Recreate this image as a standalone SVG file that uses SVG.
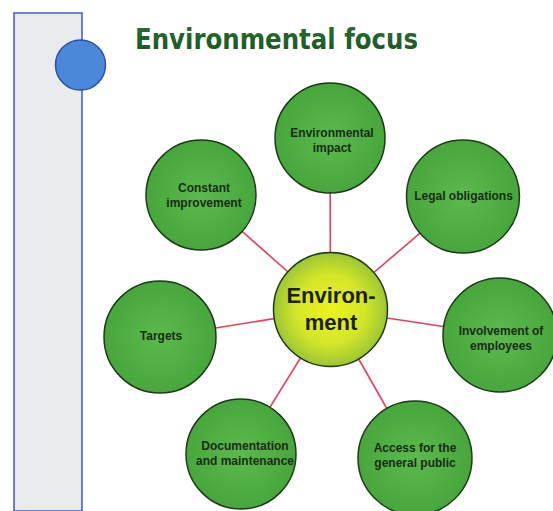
<svg xmlns="http://www.w3.org/2000/svg" width="553" height="511" viewBox="0 0 553 511">
<style>
.node circle{fill:url(#g);stroke:#1d3a18;stroke-width:1.5}
.node text{font-family:"Liberation Sans",Arial,sans-serif;font-weight:bold;font-size:12px;fill:#1c2a1a;text-anchor:middle}
#connectors line{stroke:#e4405a;stroke-width:1.6}
</style>
<defs>
<radialGradient id="g" cx="0.5" cy="0.5" r="0.5">
<stop offset="0" stop-color="#5cba4c"/>
<stop offset="1" stop-color="#47a73c"/>
</radialGradient>
<radialGradient id="cg" cx="0.5" cy="0.5" r="0.5">
<stop offset="0" stop-color="#eef21c"/>
<stop offset="0.6" stop-color="#d4e628"/>
<stop offset="1" stop-color="#9cc634"/>
</radialGradient>
<linearGradient id="tg" x1="0" y1="0" x2="0" y2="1">
<stop offset="0" stop-color="#2a7030"/>
<stop offset="1" stop-color="#1b5220"/>
</linearGradient>
</defs>
<rect width="553" height="511" fill="#ffffff"/>
<g id="sidebar">
<rect x="14" y="13" width="68" height="498" fill="#e9ebed" stroke="#3a5ac0" stroke-width="1.5"/>
<circle cx="80.5" cy="65" r="25" fill="#4a88da" stroke="#2a50a8" stroke-width="1.5"/>
</g>
<text x="135" y="49" font-family="'DejaVu Sans',Verdana,sans-serif" font-weight="bold" font-size="28" fill="url(#tg)" textLength="283" lengthAdjust="spacingAndGlyphs">Environmental focus</text>
<g id="connectors">
<line x1="330.5" y1="309.5" x2="330" y2="138"/>
<line x1="330.5" y1="309.5" x2="463" y2="196.5"/>
<line x1="330.5" y1="309.5" x2="500" y2="335"/>
<line x1="330.5" y1="309.5" x2="415" y2="458"/>
<line x1="330.5" y1="309.5" x2="241" y2="454"/>
<line x1="330.5" y1="309.5" x2="160" y2="337"/>
<line x1="330.5" y1="309.5" x2="201" y2="195"/>
</g>
<g id="n-impact" class="node"><circle cx="330" cy="138" r="55"/><text x="332" y="137">Environmental</text><text x="332" y="152">impact</text></g>
<g id="n-legal" class="node"><circle cx="463" cy="196.5" r="56.5"/><text x="463.5" y="200">Legal obligations</text></g>
<g id="n-involvement" class="node"><circle cx="500" cy="335" r="57"/><text x="501" y="335">Involvement of</text><text x="501" y="350">employees</text></g>
<g id="n-access" class="node"><circle cx="415" cy="458" r="57"/><text x="415" y="452">Access for the</text><text x="415" y="467">general public</text></g>
<g id="n-doc" class="node"><circle cx="241" cy="454" r="55"/><text x="245" y="450">Documentation</text><text x="245" y="465">and maintenance</text></g>
<g id="n-targets" class="node"><circle cx="160" cy="337" r="56"/><text x="161" y="340">Targets</text></g>
<g id="n-constant" class="node"><circle cx="201" cy="195" r="55"/><text x="204" y="192">Constant</text><text x="204" y="207">improvement</text></g>
<g id="n-center">
<circle cx="330.5" cy="309.5" r="57" fill="url(#cg)" stroke="#1d3a18" stroke-width="1.5"/>
<text x="331" y="303" font-family="'Liberation Sans',Arial,sans-serif" font-weight="bold" font-size="22" fill="#1a1f10" text-anchor="middle">Environ-</text>
<text x="331" y="330" font-family="'Liberation Sans',Arial,sans-serif" font-weight="bold" font-size="22" fill="#1a1f10" text-anchor="middle">ment</text>
</g>
</svg>
